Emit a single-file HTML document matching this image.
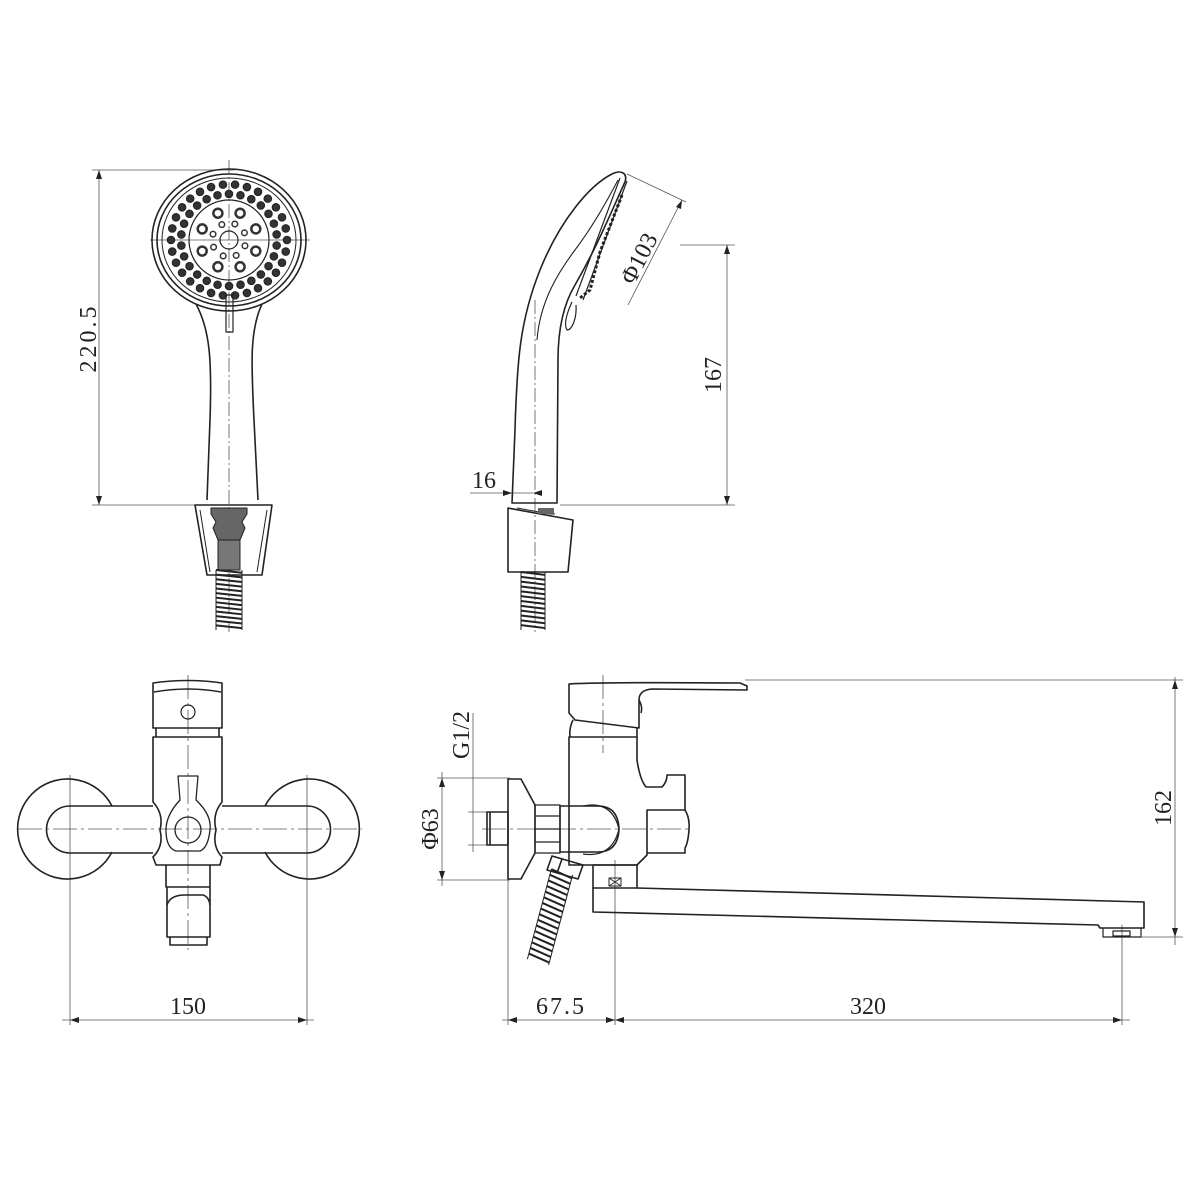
<!DOCTYPE html>
<html><head><meta charset="utf-8"><style>
html,body{margin:0;padding:0;background:#fff;}
svg{display:block;}
text{font-family:"Liberation Serif",serif;fill:#222;stroke:none;}
</style></head><body>
<svg id="s" width="1200" height="1200" viewBox="0 0 1200 1200" xmlns="http://www.w3.org/2000/svg">
<g fill="none" stroke="#222" stroke-width="1.6" stroke-linejoin="round">

<!-- ===== Shower front view ===== -->
<g stroke-width="0.8" stroke="#555">
<line x1="92" y1="170" x2="235" y2="170"/>
<line x1="92" y1="505" x2="200" y2="505"/>
<line x1="99" y1="170" x2="99" y2="505"/>
<line x1="229" y1="160" x2="229" y2="632" stroke-dasharray="14,3,2,3"/>
<line x1="150" y1="240" x2="310" y2="240"/>
</g>
<path d="M99 170 l-3 9 h6z M99 505 l-3 -9 h6z" fill="#222" stroke="none"/>
<ellipse cx="229" cy="240" rx="77" ry="71"/>
<ellipse cx="229" cy="240" rx="72" ry="66"/>
<ellipse cx="229" cy="240" rx="67" ry="62" stroke-width="1"/>
<circle cx="229" cy="240" r="40" stroke-width="1.2"/>
<circle cx="229" cy="240" r="9" stroke-width="1.2"/>
<g id="dots"></g>
<path d="M196 304 C210 330 212 360 210 420 L207 500"/>
<path d="M262 304 C250 330 251 360 254 420 L258 500"/>
<rect x="226" y="295" width="7" height="37" stroke-width="1.2"/>
<!-- bracket -->
<path d="M195 505 H272 L262 575 H207 Z"/>
<path d="M200 510 L210 572 M267 510 L257 572" stroke-width="1"/>
<path d="M211 508 H247 V514 L242 522 L245 528 L240 540 V548 H218 V540 L213 528 L216 522 L211 514 Z" fill="#666" stroke="#222" stroke-width="1"/>
<rect x="218" y="540" width="22" height="30" fill="#777" stroke="#222" stroke-width="1"/>
<g id="hose1"></g>

<!-- ===== Shower side view ===== -->
<g stroke-width="0.8" stroke="#555">
<line x1="680" y1="245" x2="735" y2="245"/>
<line x1="560" y1="505" x2="735" y2="505"/>
<line x1="727" y1="245" x2="727" y2="505"/>
<line x1="627" y1="174" x2="686" y2="202"/>
<line x1="682" y1="200" x2="628" y2="305"/>
<line x1="470" y1="493" x2="533" y2="493"/>
<line x1="535" y1="300" x2="535" y2="632" stroke-dasharray="14,3,2,3"/>
</g>
<path d="M727 245 l-3 9 h6z M727 505 l-3 -9 h6z M512 493 l-9 -3 v6z M533 493 l9 -3 v6z" fill="#222" stroke="none"/>
<path d="M682 200 l-1 9 l-5 -2z" fill="#222" stroke="none"/>
<path d="M512 503 L515 430 C517 360 520 320 540 270 C560 220 590 185 612 174 C620 170 628 172 625 182 C612 210 598 245 575 285 C563 305 558 330 558 360 L557 503 Z"/>
<path d="M537 340 C540 300 560 270 575 250 C590 230 605 205 618 180" stroke-width="1.1"/>
<path d="M620 178 L576 296 M627 181 L583 300" stroke-width="1.2"/>
<path d="M622 195 L600 252 L590 290 L580 298" stroke-width="3" stroke-dasharray="3,2"/>
<path d="M572 302 C566 315 564 325 567 330 C572 330 577 318 576 305" stroke-width="1.2"/>
<!-- side bracket -->
<path d="M508 508 L573 520 L568 572 H508 Z"/>
<path d="M517 508 L550 514 H555" stroke-width="1"/>
<rect x="538" y="508" width="16" height="6" fill="#666" stroke="none"/>
<g id="hose2"></g>

<!-- ===== Faucet front view ===== -->
<g stroke-width="0.8" stroke="#555">
<line x1="188" y1="675" x2="188" y2="950" stroke-dasharray="24,4,3,4"/>
<line x1="70" y1="775" x2="70" y2="1025"/>
<line x1="307" y1="775" x2="307" y2="1025"/>
<line x1="18" y1="829" x2="362" y2="829" stroke-dasharray="24,4,3,4"/>
<line x1="62" y1="1020" x2="314" y2="1020"/>
</g>
<path d="M70 1020 l9 -3 v6z M307 1020 l-9 -3 v6z" fill="#222" stroke="none"/>
<path d="M112 806 A50 50 0 1 0 112 852"/>
<path d="M265 806 A50 50 0 1 1 265 852"/>
<path d="M153 683 Q188 678 222 683 V728 H153 Z"/>
<path d="M154 692 Q188 686 221 692"/>
<circle cx="188" cy="712" r="7" stroke-width="1.2"/>
<path d="M156 728 V737 M219 728 V737"/>
<path d="M153 737 H222 V802 Q212 814 216 830 Q212 846 222 857 L220 865 H156 L153 857 Q164 846 160 830 Q164 814 153 802 Z"/>
<path d="M153 806 L70 806 A23 23 0 0 0 70 853 L153 853"/>
<path d="M222 806 L307 806 A23 23 0 0 1 307 853 L222 853"/>
<path d="M178 776 H198 L196 800 Q212 815 210 830 Q208 848 200 851 H176 Q166 848 166 830 Q166 815 180 800 Z" stroke-width="1.3"/>
<circle cx="188" cy="830" r="13" stroke-width="1.3"/>
<path d="M166 865 V887 H210 V865 M167 887 V937 H210 V887 M170 937 V945 H207 V937"/>
<path d="M167 905 Q170 895 185 895 H203 Q209 897 210 905"/>

<!-- ===== Faucet side view ===== -->
<g stroke-width="0.8" stroke="#555">
<line x1="745" y1="680" x2="1183" y2="680"/>
<line x1="1112" y1="937" x2="1183" y2="937"/>
<line x1="1175" y1="677" x2="1175" y2="945"/>
<line x1="437" y1="778" x2="510" y2="778"/>
<line x1="437" y1="880" x2="510" y2="880"/>
<line x1="442" y1="772" x2="442" y2="886"/>
<line x1="468" y1="812" x2="490" y2="812"/>
<line x1="468" y1="845" x2="490" y2="845"/>
<line x1="473" y1="713" x2="473" y2="852"/>
<line x1="508" y1="880" x2="508" y2="1025"/>
<line x1="615" y1="860" x2="615" y2="1025"/>
<line x1="1122" y1="925" x2="1122" y2="1025"/>
<line x1="502" y1="1020" x2="1130" y2="1020"/>
<line x1="603" y1="675" x2="603" y2="753" stroke-dasharray="24,4,3,4"/>
<line x1="482" y1="829" x2="692" y2="829" stroke-dasharray="24,4,3,4"/>
</g>
<path d="M1175 680 l-3 9 h6z M1175 937 l-3 -9 h6z M442 778 l-3 9 h6z M442 880 l-3 -9 h6z M508 1020 l9 -3 v6z M615 1020 l-9 -3 v6z M615 1020 l9 -3 v6z M1122 1020 l-9 -3 v6z" fill="#222" stroke="none"/>
<!-- lever -->
<path d="M569 684 Q600 682 740 683 L747 686 V690 L652 689 Q639 690 639 700 V728 L575 720 L569 713 Z"/>
<path d="M639 700 Q643 707 641 713" />
<path d="M573 720 Q569 728 570 737 M637 728 V737"/>
<!-- body -->
<path d="M569 737 H637 V760 Q640 780 646 787 H662 Q667 782 667 775 H685 V810 H647 V855 L637 865 H569 V737 Z"/>
<path d="M685 810 Q690 818 689 830 Q688 843 685 848 V853 H647"/>
<path d="M560 806 H598 Q618 806 619 829 Q618 852 598 852 H560 Z"/>
<path d="M583 806 Q612 800 619 829 Q612 858 583 854" stroke-width="1.2"/>
<path d="M535 805 H560 V853 H535 Z M535 816 H560 M535 829 H560 M535 842 H560" stroke-width="1.2"/>
<path d="M508 779 H521 L535 805 V853 L521 879 H508 Z"/>
<path d="M487 812 H508 V845 H487 Z M490 812 V845"/>
<!-- bottom block and spout -->
<path d="M593 865 H637 V888 H593 Z"/>
<rect x="609" y="878" width="12" height="8" stroke-width="1"/>
<path d="M609 878 L621 886 M621 878 L609 886" stroke-width="0.8"/>
<path d="M637 888 L1144 902 V928 H1100 L1098 925 L593 912 V888"/>
<path d="M1103 928 V937 H1141 V928 M1113 931 H1130 V936 H1113 Z" stroke-width="1.2"/>
<!-- side hose -->
<path d="M552 856 L583 865 L578 879 L547 870 Z M562 859 L557 873"/>
<g id="hose3"></g>
</g>

<g font-size="24">
<text transform="translate(96,338) rotate(-90)" text-anchor="middle" letter-spacing="3">220.5</text>
<text x="484" y="488" text-anchor="middle">16</text>
<text transform="translate(721,375) rotate(-90)" text-anchor="middle">167</text>
<text transform="translate(646,262) rotate(-63)" text-anchor="middle">Φ103</text>
<text x="188" y="1014" text-anchor="middle">150</text>
<text transform="translate(1171,808) rotate(-90)" text-anchor="middle">162</text>
<text transform="translate(438,829) rotate(-90)" text-anchor="middle">Φ63</text>
<text transform="translate(469,735) rotate(-90)" text-anchor="middle">G1/2</text>
<text x="561" y="1014" text-anchor="middle" letter-spacing="2">67.5</text>
<text x="868" y="1014" text-anchor="middle">320</text>
</g>
</svg>
<script>
(function(){
var ns="http://www.w3.org/2000/svg";
function el(p,n,a){var e=document.createElementNS(ns,n);for(var k in a)e.setAttribute(k,a[k]);p.appendChild(e);return e;}
var d=document.getElementById("dots");
var cx=229,cy=240;
function ring(r,n,off,rad,fill){for(var i=0;i<n;i++){var a=off+i*2*Math.PI/n;var x=cx+r*Math.cos(a),y=cy+r*Math.sin(a)*0.96;
if(y>290&&Math.abs(x-cx)<6)continue;
el(d,"circle",{cx:x,cy:y,r:rad,fill:fill,stroke:"#222","stroke-width":"1"});}}
ring(58,30,0,3.8,"#333");
ring(48,26,0.12,3.8,"#333");
for(var i=0;i<8;i++){var a=Math.PI/8+i*Math.PI/4;el(d,"circle",{cx:cx+29*Math.cos(a),cy:cy+29*Math.sin(a),r:4.5,fill:"#fff",stroke:"#333","stroke-width":"2.5"});}
for(var i=0;i<8;i++){var a=i*Math.PI/4+0.35;var x=cx+17*Math.cos(a),y=cy+17*Math.sin(a);el(d,"circle",{cx:x,cy:y,r:2.8,fill:"#fff",stroke:"#333","stroke-width":"1.5"});}
function hose(id,x1,y1,x2,y2,w,n){var g=document.getElementById(id);var dx=x2-x1,dy=y2-y1,L=Math.sqrt(dx*dx+dy*dy),ux=dx/L,uy=dy/L,px=-uy*w/2,py=ux*w/2;
el(g,"path",{d:"M"+(x1+px)+" "+(y1+py)+"L"+(x2+px)+" "+(y2+py)+"M"+(x1-px)+" "+(y1-py)+"L"+(x2-px)+" "+(y2-py),"stroke-width":"1"});
for(var i=0;i<n;i++){var t=i/n,x=x1+dx*t,y=y1+dy*t,s=L/n;
el(g,"path",{d:"M"+(x+px)+" "+(y+py)+"L"+(x-px+ux*s*0.6)+" "+(y-py+uy*s*0.6),"stroke-width":"2"});}}
hose("hose1",229,570,229,630,26,13);
hose("hose2",533,572,533,630,24,12);
hose("hose3",562,872,538,962,22,16);
})();
</script>
</body></html>
